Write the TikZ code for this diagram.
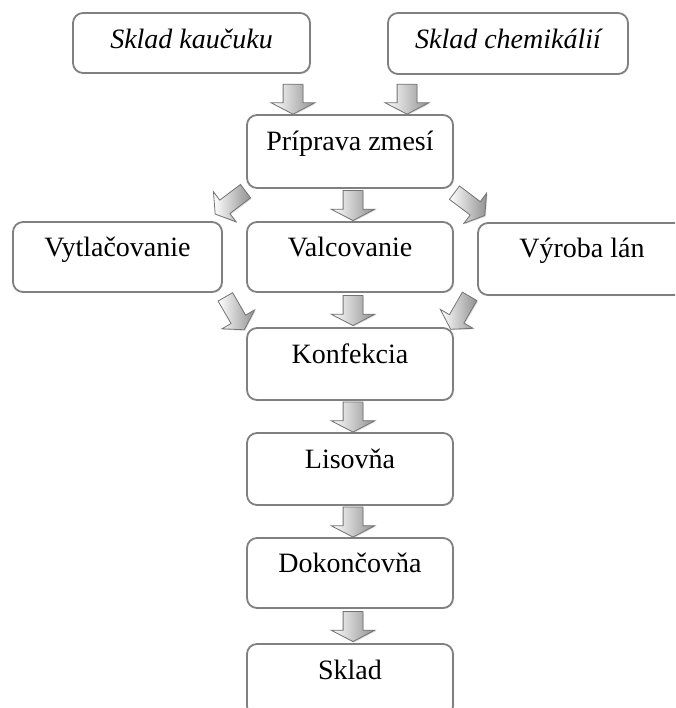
\documentclass[tikz,border=0pt]{standalone}
\usepackage{fontspec}
\setmainfont{Liberation Serif}
\usetikzlibrary{shapes.arrows,shadows,calc}
\definecolor{boxline}{RGB}{128,128,128}
\definecolor{arrline}{RGB}{115,115,115}
\definecolor{arrdark}{RGB}{145,145,145}
\begin{document}
\begin{tikzpicture}[x=1pt,y=-1pt,
  box/.style={draw=boxline, line width=1.8pt, rounded corners=10pt, fill=white,
    inner sep=0pt, font=\fontsize{28}{30}\selectfont, text height=18pt, text depth=20pt,
    drop shadow={opacity=0.2, shadow xshift=1pt, shadow yshift=-1pt}},
  topbox/.style={box, font=\itshape\fontsize{28}{30}\selectfont, text height=19pt, text depth=8pt},
  varrow/.style={single arrow, draw=arrline, line width=0.8pt, left color=white, right color=arrdark,
    inner sep=0pt, inner ysep=9.5pt, minimum height=30pt, single arrow head extend=12pt,
    single arrow tip angle=125,
    drop shadow={opacity=0.25, shadow xshift=1pt, shadow yshift=-1pt}},
  darrow/.style={varrow, inner ysep=8pt, minimum height=38pt, single arrow head extend=10.5pt,
    single arrow tip angle=115}
]
\useasboundingbox (0,0) rectangle (675,708);
\clip (0,0) rectangle (675,708);

\node[topbox, minimum width=237pt, minimum height=60pt] (kau) at (191.5,43) {Sklad kaučuku};
\node[topbox, minimum width=240pt, minimum height=61pt] (chem) at (508,43.5) {Sklad chemikálií};
\node[box, minimum width=206pt, minimum height=73pt] (prip) at (350,151.5) {Príprava zmesí};
\node[box, minimum width=209pt, minimum height=70pt] (vyt) at (117.5,257) {Vytlačovanie};
\node[box, minimum width=206pt, minimum height=70pt] (val) at (350,257) {Valcovanie};
\node[box, minimum width=208pt, minimum height=72pt] (vyr) at (582,259) {Výroba lán};
\node[box, minimum width=206pt, minimum height=72pt] (konf) at (350,364) {Konfekcia};
\node[box, minimum width=206pt, minimum height=72pt] (lis) at (350,469) {Lisovňa};
\node[box, minimum width=206pt, minimum height=70pt] (dok) at (350,573) {Dokončovňa};
\node[box, minimum width=206pt, minimum height=72pt] (skl) at (350,680) {Sklad};

% arrows into Príprava
\node[varrow, rotate=-90] (a1) at ($(prip.north)+(-57,-17.5)$) {};
\node[varrow, rotate=-90] (a2) at ($(prip.north)+(57,-17.5)$) {};
% arrows out of Príprava
\node[darrow, rotate=-143] (a3) at ($(prip.south west)!0.5!(vyt.north east)+(-2,-4)$) {};
\node[varrow, rotate=-90] (a4) at ([xshift=3pt,yshift=2pt]$(prip.south)!0.5!(val.north)$) {};
\node[darrow, rotate=-37] (a5) at ($(prip.south east)!0.5!(vyr.north west)+(2,-3)$) {};
% arrows into Konfekcia
\node[darrow, rotate=-60] (a6) at ($(vyt.south east)!0.5!(konf.north west)+(-1,1)$) {};
\node[varrow, rotate=-90] (a7) at ([xshift=3pt,yshift=2pt]$(val.south)!0.5!(konf.north)$) {};
\node[darrow, rotate=-120] (a8) at ($(vyr.south west)!0.5!(konf.north east)+(-4,-1)$) {};
% chain downwards
\node[varrow, rotate=-90] (a9) at ([xshift=3pt,yshift=2pt]$(konf.south)!0.5!(lis.north)$) {};
\node[varrow, rotate=-90] (a10) at ([xshift=3pt,yshift=2pt]$(lis.south)!0.5!(dok.north)$) {};
\node[varrow, rotate=-90] (a11) at ([xshift=3pt,yshift=2pt]$(dok.south)!0.5!(skl.north)$) {};
\end{tikzpicture}
\end{document}
